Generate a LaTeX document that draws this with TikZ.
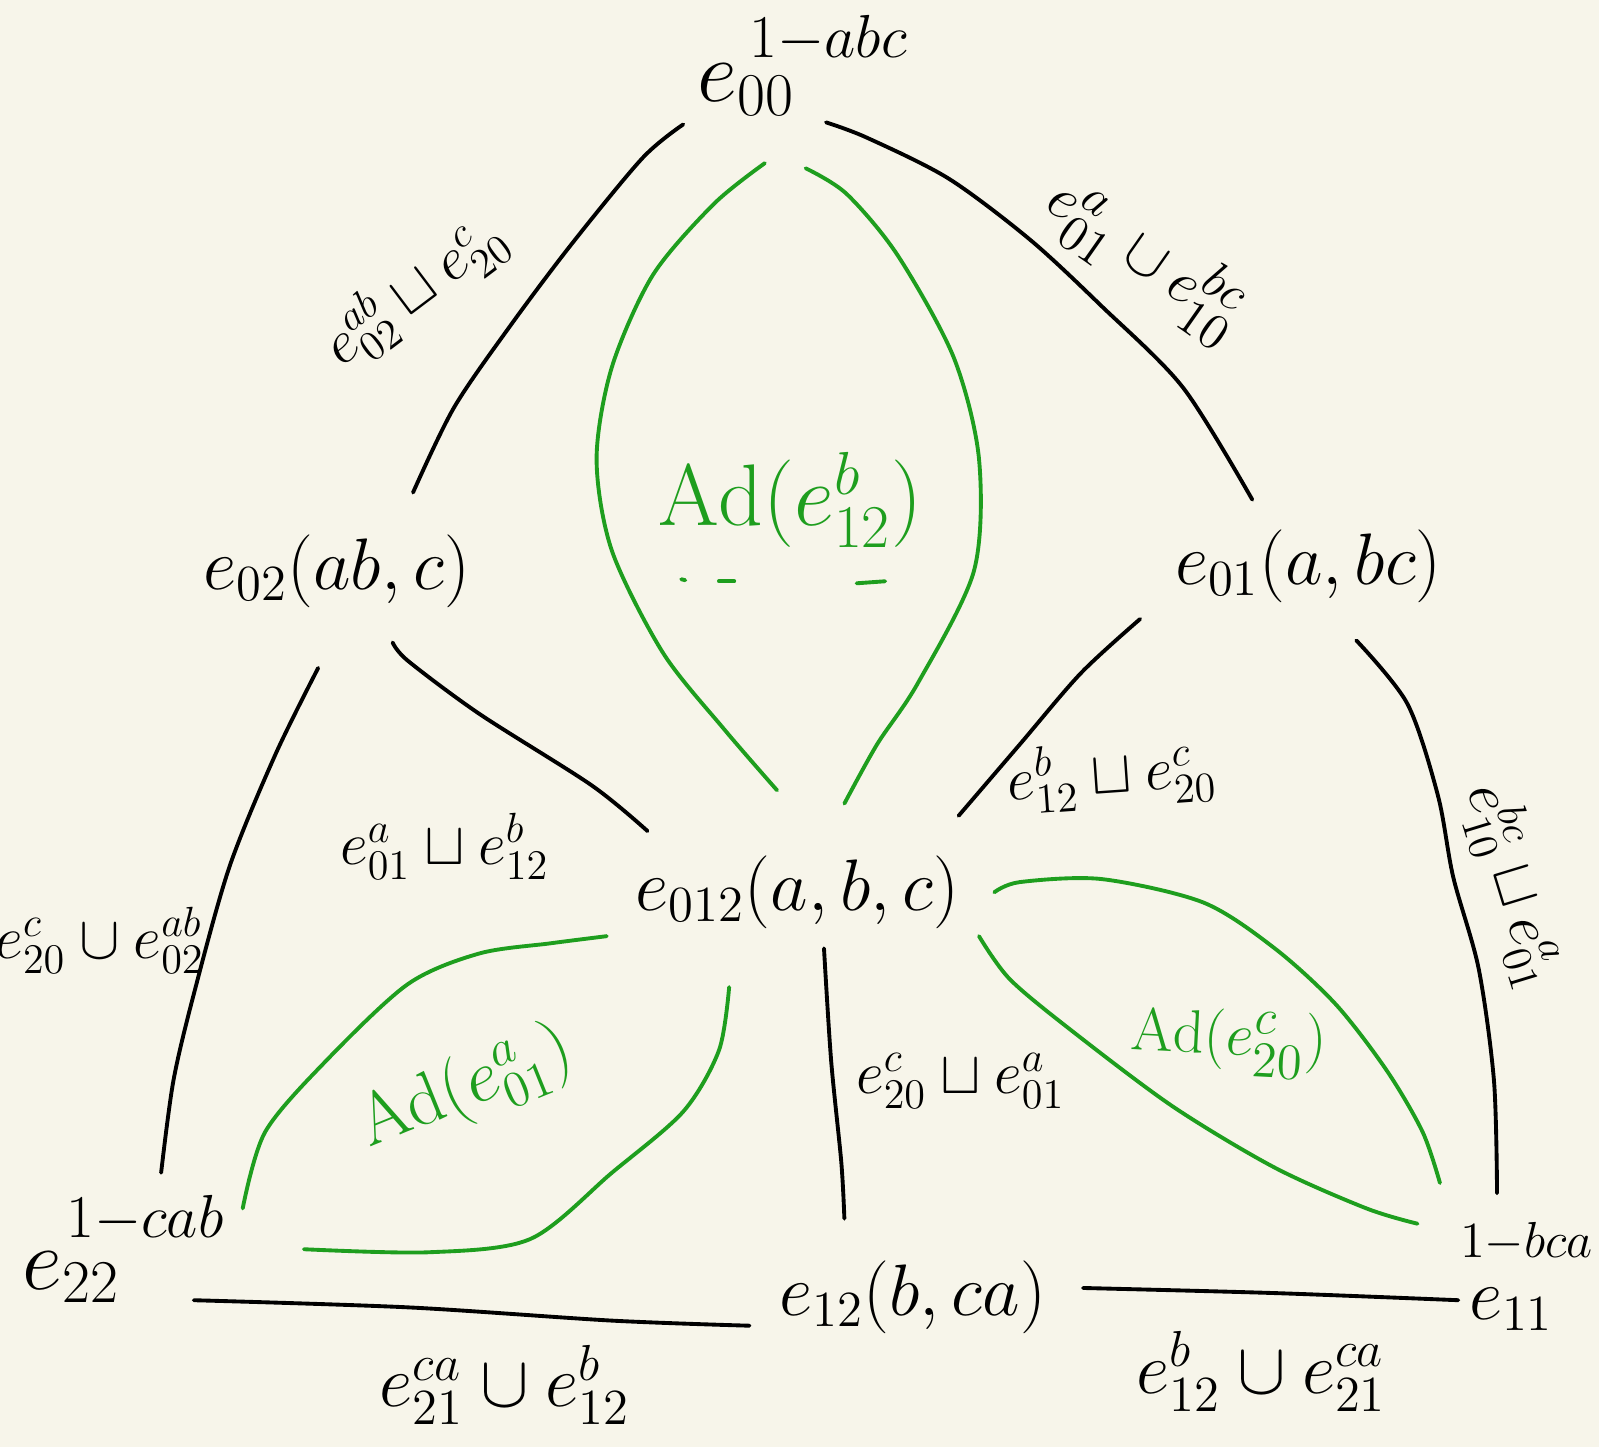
\documentclass[tikz,border=0pt]{standalone}
\usepackage{amssymb}
\definecolor{bg}{HTML}{F7F5EA}
\definecolor{grn}{HTML}{1E9E1E}
\begin{document}
\begin{tikzpicture}[x=0.010198cm,y=-0.010198cm,
 fs/.style={inner sep=1pt, font=\fontsize{#1}{#1}\selectfont},
 gtxt/.style={text=grn, inner sep=1pt, font=\fontsize{#1}{#1}\selectfont},
 blk/.style={line width=1.1pt, black, line cap=round},
 gln/.style={line width=1.1pt, grn, line cap=round}]
\fill[bg] (0,0) rectangle (1568,1419);
\useasboundingbox (0,0) rectangle (1568,1419);
% vertices
\node[fs=23] (e00) at (732,88) {$e_{00}$};
\node[fs=16] (e00s) at (812,38) {$1{-}abc$};
\node[fs=22] (e02) at (330,560) {$e_{02}(ab,c)$};
\node[fs=22] (e01) at (1283,555) {$e_{01}(a,bc)$};
\node[fs=21] (e012) at (782,875) {$e_{012}(a,b,c)$};
\node[fs=23] (e22) at (70,1252) {$e_{22}$};
\node[fs=17] (e22s) at (142,1195) {$1{-}cab$};
\node[fs=22] (e12) at (895,1272) {$e_{12}(b,ca)$};
\node[fs=22] (e11) at (1482,1284) {$e_{11}$};
\node[fs=15, anchor=east] (e11s) at (1566,1218) {$1{-}bca$};
% edge labels
\node[fs=18, rotate=37] (l1) at (406,285) {$e^{ab}_{02}\sqcup e^{c}_{20}$};
\node[fs=19, rotate=-35] (l2) at (1124,252) {$e^{a}_{01}\cup e^{bc}_{10}$};
\node[fs=17, rotate=4] (l3) at (1090,760) {$e^{b}_{12}\sqcup e^{c}_{20}$};
\node[fs=17] (l4) at (436,830) {$e^{a}_{01}\sqcup e^{b}_{12}$};
\node[fs=17] (l5) at (98,922) {$e^{c}_{20}\cup e^{ab}_{02}$};
\node[fs=17, rotate=-73] (l6) at (1486,868) {$e^{bc}_{10}\sqcup e^{a}_{01}$};
\node[fs=18] (l7) at (942,1060) {$e^{c}_{20}\sqcup e^{a}_{01}$};
\node[fs=20] (l8) at (495,1358) {$e^{ca}_{21}\cup e^{b}_{12}$};
\node[fs=20] (l9) at (1237,1345) {$e^{b}_{12}\cup e^{ca}_{21}$};
% green labels
\node[gtxt=23] (g1) at (775,490) {$\mathrm{Ad}(e^{b}_{12})$};
\node[gtxt=21, rotate=22] (g2) at (457,1068) {$\mathrm{Ad}(e^{a}_{01})$};
\node[gtxt=19, rotate=-3] (g3) at (1205,1022) {$\mathrm{Ad}(e^{c}_{20})$};
% black edges
\draw[blk] plot[smooth] coordinates {(670,122) (630,155) (560,240) (500,320) (445,400) (405,483)};
\draw[blk] plot[smooth] coordinates {(810,120) (850,135) (930,175) (1010,235) (1080,300) (1160,380) (1228,490)};
\draw[blk] plot[smooth] coordinates {(385,630) (400,648) (470,700) (580,770) (635,815)};
\draw[blk] plot[smooth] coordinates {(1118,607) (1060,660) (1000,730) (940,800)};
\draw[blk] plot[smooth] coordinates {(312,655) (270,740) (225,850) (190,975) (170,1060) (158,1150)};
\draw[blk] plot[smooth] coordinates {(1330,628) (1380,690) (1410,780) (1425,860) (1450,950) (1465,1060) (1468,1170)};
\draw[blk] plot[smooth] coordinates {(808,930) (815,1040) (825,1140) (828,1195)};
\draw[blk] plot[smooth] coordinates {(190,1275) (400,1282) (600,1295) (735,1300)};
\draw[blk] plot[smooth] coordinates {(1062,1263) (1250,1268) (1430,1275)};
% green curves
\draw[gln] plot[smooth] coordinates {(750,160) (700,200) (640,270) (600,360) (585,450) (600,540) (650,640) (710,715) (762,775)};
\draw[gln] plot[smooth] coordinates {(790,165) (830,190) (880,250) (935,350) (960,450) (955,560) (900,670) (860,730) (828,788)};
\draw[gln] (668,568) -- (672,569);
\draw[gln] (705,570) -- (720,570);
\draw[gln] (840,572) -- (868,570);
\draw[gln] plot[smooth] coordinates {(595,918) (540,925) (470,935) (400,965) (320,1040) (260,1110) (238,1185)};
\draw[gln] plot[smooth] coordinates {(715,968) (705,1030) (670,1090) (600,1150) (520,1215) (420,1228) (298,1225)};
\draw[gln] plot[smooth] coordinates {(975,875) (1000,865) (1080,862) (1180,885) (1250,930) (1310,985) (1360,1050) (1395,1110) (1412,1160)};
\draw[gln] plot[smooth] coordinates {(960,918) (990,960) (1050,1010) (1150,1085) (1250,1145) (1340,1185) (1390,1200)};
\end{tikzpicture}
\end{document}
